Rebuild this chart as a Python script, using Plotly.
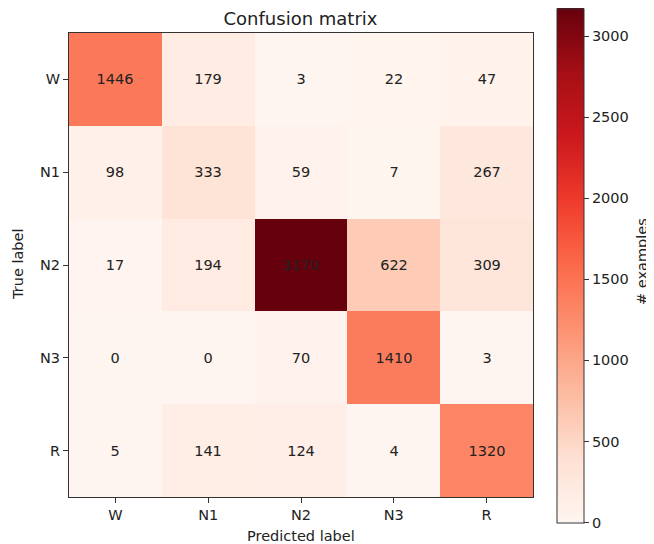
import plotly.graph_objects as go

labels = ["W", "N1", "N2", "N3", "R"]
matrix = [
    [1446, 179, 3, 22, 47],
    [98, 333, 59, 7, 267],
    [17, 194, 3170, 622, 309],
    [0, 0, 70, 1410, 3],
    [5, 141, 124, 4, 1320],
]
cbar_ticks = [0, 500, 1000, 1500, 2000, 2500, 3000]

reds = ["#fff5f0", "#fee0d2", "#fcbba1", "#fc9272", "#fb6a4a",
        "#ef3b2c", "#cb181d", "#a50f15", "#67000d"]
colorscale = [[i / (len(reds) - 1), c] for i, c in enumerate(reds)]

FONT = "DejaVu Sans"
FS = 14.5
TXT = "#222222"
OFF = 8  # page body margin
W, H = 654 - OFF, 544 - OFF
# plot area in page pixels: x 69..533, y 33..497
PL, PR, PT, PB = 69, 533, 33, 497
L, T = PL - OFF, PT - OFF
R = W - (PR - OFF)
B = H - (PB - OFF)
PW, PH = PR - PL, PB - PT

def px_x(x):
    return (x - PL) / PW

def px_y(y):
    return (PB - y) / PH

fig = go.Figure(go.Heatmap(
    z=matrix, x=labels, y=labels,
    colorscale=colorscale, zmin=0, zmax=max(max(r) for r in matrix),
    text=[[str(v) for v in r] for r in matrix],
    texttemplate="%{text}",
    textfont=dict(family=FONT, size=FS, color=TXT),
    colorbar=dict(
        thickness=27, len=514, lenmode="pixels",
        x=px_x(557), xanchor="left", xpad=0, ypad=0,
        y=px_y(265.5), yanchor="middle",
        outlinecolor="#333333", outlinewidth=1,
        tickvals=cbar_ticks, ticks="outside", ticklen=5,
        tickcolor="#333333",
        tickfont=dict(family=FONT, size=FS, color=TXT),
    ),
))

axis_common = dict(
    ticks="outside", ticklen=5, tickcolor="#333333",
    tickfont=dict(family=FONT, size=FS, color=TXT),
    showline=True, linecolor="#333333", linewidth=1, mirror=True,
    showgrid=False, zeroline=False,
)

fig.update_layout(
    width=W, height=H,
    margin=dict(l=L, r=R, t=T, b=B),
    paper_bgcolor="white", plot_bgcolor="white",
    font=dict(family=FONT, size=FS, color=TXT),
    title=dict(text="Confusion matrix", x=(300.5 - OFF) / W, xanchor="center",
               y=1 - (19 - OFF) / H, yanchor="middle",
               font=dict(family=FONT, size=18, color=TXT)),
    xaxis=dict(**axis_common),
    yaxis=dict(autorange="reversed", **axis_common),
    annotations=[
        dict(text="Predicted label", xref="paper", yref="paper",
             x=px_x(300.5), y=px_y(536), xanchor="center", yanchor="middle",
             showarrow=False, font=dict(family=FONT, size=FS, color=TXT)),
        dict(text="True label", xref="paper", yref="paper",
             x=px_x(18), y=px_y(265), xanchor="center", yanchor="middle",
             textangle=-90, showarrow=False,
             font=dict(family=FONT, size=FS, color=TXT)),
        dict(text="# examples", xref="paper", yref="paper",
             x=px_x(642), y=px_y(262), xanchor="center", yanchor="middle",
             textangle=-90, showarrow=False,
             font=dict(family=FONT, size=FS, color=TXT)),
    ],
)

fig.write_html("out.html")
